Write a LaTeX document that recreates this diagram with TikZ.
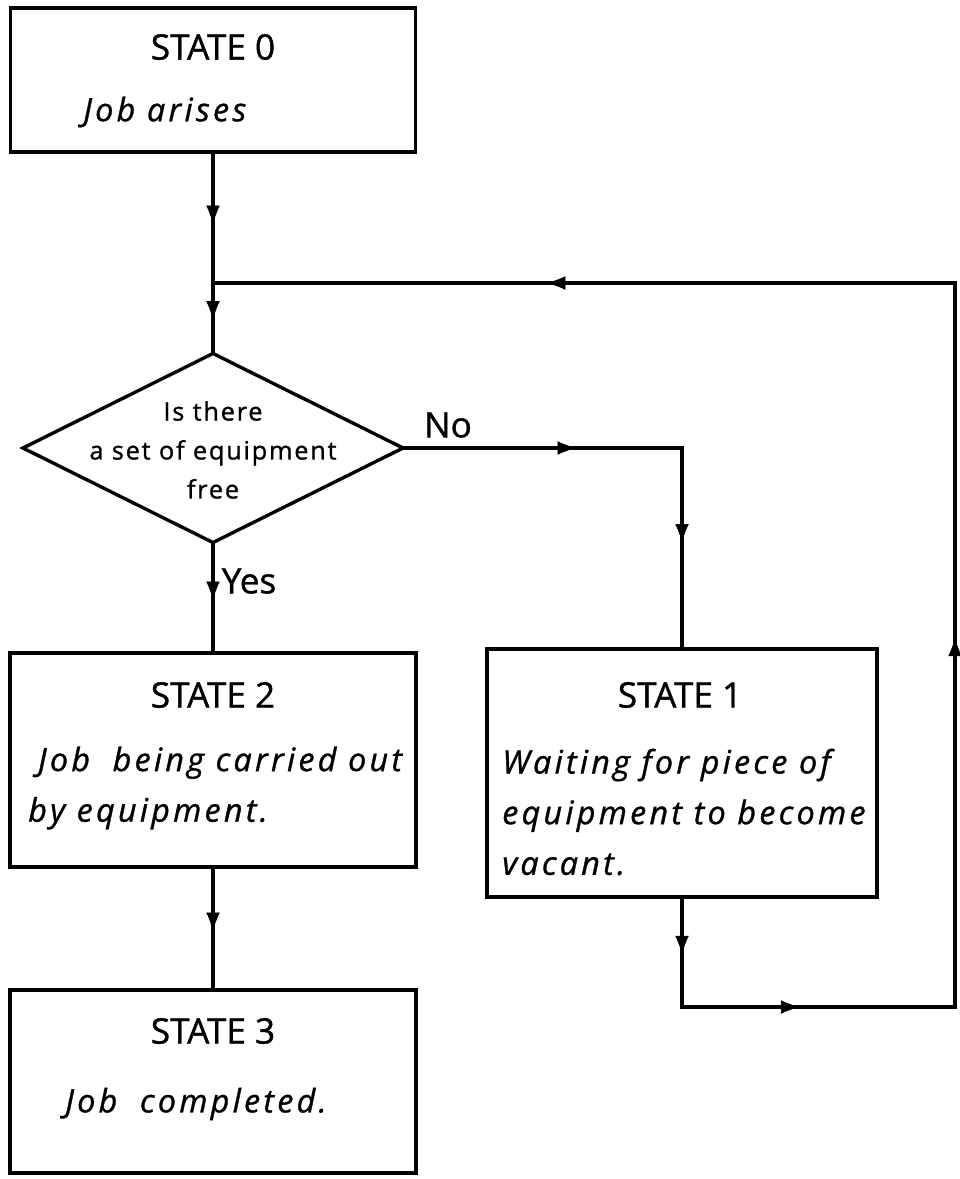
\documentclass[tikz,border=0pt]{standalone}
\usepackage{fontspec}
\setmainfont[FakeBold=1]{Open Sans}
\newfontfamily\lettering[LetterSpace=10,FakeBold=1]{Open Sans}
\newfontfamily\smalllettering[LetterSpace=7,FakeBold=1]{Open Sans}
\usetikzlibrary{arrows.meta,decorations.markings,shapes.geometric}

\tikzset{
  px/.style={x=0.025cm,y=-0.025cm},
  stepbox/.style={draw, rectangle, line width=2.6pt, inner sep=0pt, outer sep=0pt},
  decision/.style={draw, diamond, line width=2.4pt, inner sep=0pt, outer sep=0pt},
  midarrow/.style={line width=2.4pt, line cap=rect, postaction={decorate},
    decoration={markings, mark=at position #1 with {\arrow[line width=0.4pt]{Latex[length=4.6mm,width=3.4mm]}}}},
  title/.style={font=\fontsize{25}{30}\selectfont, inner sep=0pt},
  body/.style={font=\lettering\itshape\fontsize{23}{36}\selectfont, align=left, inner sep=0pt, anchor=west},
  question/.style={font=\smalllettering\fontsize{18}{27.7}\selectfont, align=center, inner sep=0pt},
  answer/.style={font=\fontsize{25}{30}\selectfont, inner sep=0pt},
}

\begin{document}
\begin{tikzpicture}[px]
\useasboundingbox (0,0) rectangle (960,1179);

% state boxes
\node[stepbox, minimum width=10.125cm, minimum height=3.6cm] (s0) at (213,80) {};
\node[stepbox, minimum width=10.15cm, minimum height=5.35cm] (s2) at (213,760) {};
\node[stepbox, minimum width=10.15cm, minimum height=4.575cm] (s3) at (213,1081.5) {};
\node[stepbox, minimum width=9.75cm, minimum height=6.2cm] (s1) at (682,773) {};

% decision
\node[decision, minimum width=9.5cm, minimum height=4.725cm] (dia) at (213,448) {};

% texts
\node[title] (s0title) at (213,47) {STATE 0};
\node[body] (s0text) at (83,112) {Job arises};

\node[question] (diatext) at (213,450) {Is there\\a set of equipment\\free};

\node[title] (s2title) at (213,695) {STATE 2};
\node[body] (s2text) at (28,788) {\hspace*{0.3em}Job\hspace{0.7em}being carried out\\by equipment.};

\node[title] (s3title) at (213,1031) {STATE 3};
\node[body] (s3text) at (65,1104) {Job\hspace{0.7em}completed.};

\node[title] (s1title) at (680,695) {STATE 1};
\node[body] (s1text) at (502,812) {Waiting for piece of\\equipment to become\\vacant.};

\node[answer] (nolabel) at (448,425) {No};
\node[answer] (yeslabel) at (249,581) {Yes};

% routing points
\coordinate (j) at (213,283);
\coordinate (nocorner) at (s1.north |- dia.east);
\coordinate (loopy) at (0,1007);
\coordinate (loopbl) at (s1.south |- loopy);
\coordinate (loopbr) at (955,1007);
\coordinate (looptr) at (955,283);

% connectors
\draw[midarrow=0.55] (s0.south) -- (j);
\draw[midarrow=0.52] (j) -- (dia.north);
\draw[midarrow=0.62] (dia.east) -- (nocorner);
\draw[midarrow=0.47] (nocorner) -- (s1.north);
\draw[midarrow=0.52] (s1.south) -- (loopbl);
\draw[midarrow=0.43] (loopbl) -- (loopbr);
\draw[midarrow=0.51] (loopbr) -- (looptr);
\draw[midarrow=0.55] (looptr) -- (j);
\draw[midarrow=0.52] (dia.south) -- (s2.north);
\draw[midarrow=0.52] (s2.south) -- (s3.north);
\end{tikzpicture}
\end{document}
